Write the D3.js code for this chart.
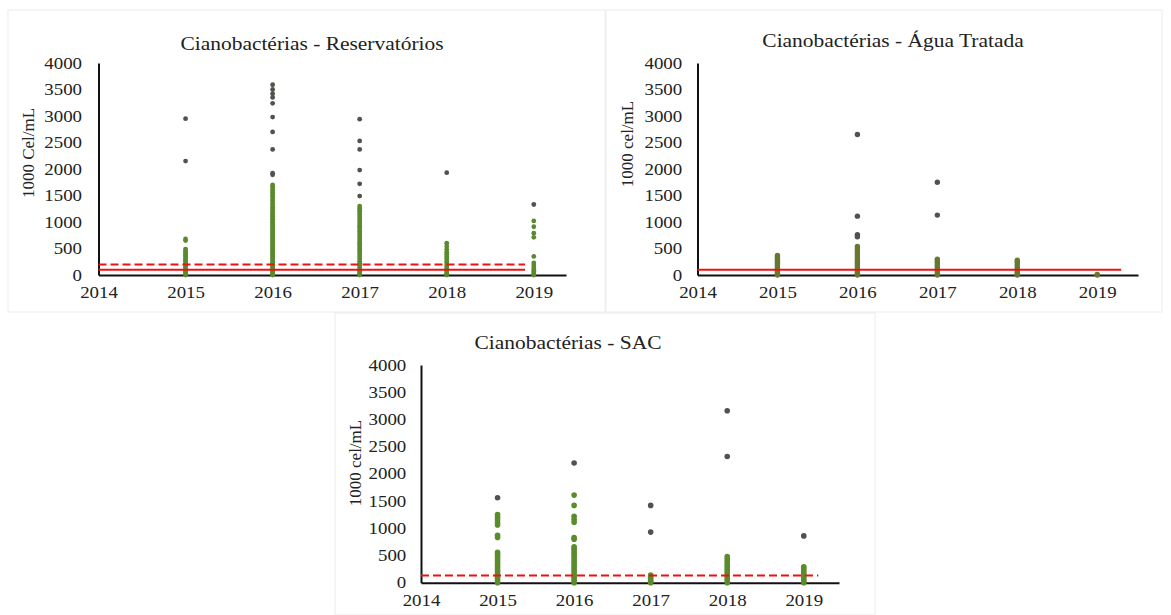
<!DOCTYPE html>
<html>
<head>
<meta charset="utf-8">
<script src="https://cdn.jsdelivr.net/npm/d3@7"></script>
<style>
  html, body { margin: 0; padding: 0; background: #fff; }
  svg { display: block; }
</style>
</head>
<body>
<svg id="chart" width="1171" height="615"></svg>
<script>
// Sampling years shown on the x axis
const xTicks = [2014, 2015, 2016, 2017, 2018, 2019];
const yTicks = [0, 500, 1000, 1500, 2000, 2500, 3000, 3500, 4000];
const years = [2015, 2016, 2017, 2018, 2019];

// Reservatórios (1000 cel/mL) – one list per year, dense low counts and isolated high counts
const resBaixo = [
  [680, 650, 490, 460, 430, 400, 370, 340, 310, 280, 250, 220, 190, 160, 130, 100, 80, 60, 40, 20, 10, 0],
  [1700, 1670, 1640, 1600, 1560, 1520, 1480, 1440, 1400, 1360, 1320, 1280, 1240, 1200, 1170, 1140, 1110, 1080, 1050, 1020, 990, 960, 930, 900, 870, 840, 810, 780, 750, 720, 690, 660, 630, 600, 570, 540, 510, 480, 450, 420, 390, 360, 330, 300, 270, 240, 210, 180, 150, 120, 90, 60, 40, 20, 0],
  [1300, 1260, 1220, 1180, 1140, 1100, 1060, 1020, 980, 940, 900, 860, 820, 780, 740, 700, 660, 620, 580, 540, 500, 460, 420, 380, 340, 300, 260, 220, 180, 140, 100, 70, 40, 20, 0],
  [600, 540, 480, 430, 390, 350, 310, 270, 230, 190, 150, 120, 90, 60, 30, 10, 0],
  [1020, 910, 790, 710, 350, 230, 190, 150, 110, 70, 40, 10, 0]
];
const resAlto = [
  [2950, 2150],
  [3590, 3500, 3420, 3350, 3240, 2980, 2700, 2370, 1920, 1890],
  [2940, 2530, 2370, 1980, 1720, 1490],
  [1930],
  [1330]
];

// Água Tratada (1000 cel/mL)
const aguaBaixo = [
  [370, 340, 310, 280, 250, 220, 190, 160, 130, 100, 70, 40, 20, 0],
  [540, 500, 460, 420, 380, 340, 300, 260, 220, 180, 140, 100, 60, 30, 0],
  [300, 270, 240, 200, 160, 120, 80, 40, 0],
  [280, 250, 210, 170, 130, 90, 50, 20, 0],
  [10, 0]
];
const aguaAlto = [
  [],
  [2650, 1110, 760, 720],
  [1750, 1130],
  [],
  []
];

// SAC (1000 cel/mL)
const sacBaixo = [
  [1250, 1200, 1150, 1100, 1060, 870, 830, 560, 520, 480, 440, 400, 360, 320, 280, 240, 200, 160, 120, 80, 40, 0],
  [1610, 1420, 1220, 1160, 1110, 830, 800, 660, 630, 600, 560, 520, 480, 440, 400, 360, 320, 280, 240, 200, 160, 120, 80, 40, 0],
  [140, 110, 80, 50, 20, 0],
  [480, 440, 400, 360, 320, 280, 240, 200, 160, 120, 80, 40, 0],
  [290, 260, 220, 180, 140, 100, 60, 30, 0]
];
const sacAlto = [
  [1560],
  [2200],
  [1420, 930],
  [3160, 2320],
  [860]
];

// Reference limits (1000 cel/mL)
const resLimites = [{ value: 100, dashed: false }, { value: 200, dashed: true }];
const aguaLimites = [{ value: 100, dashed: false }];
const sacLimites = [{ value: 130, dashed: true }];

const FONT = "'Liberation Serif', 'DejaVu Serif', serif";
const WIDE = "scale(1.18,1)";   // the typeset labels run slightly wide
const svg = d3.select("#chart");

// Faint frames around each panel
[[8, 10, 597, 302], [606, 10, 556, 302], [335, 313, 540, 302]].forEach(([x, y, w, h]) => {
  svg.append("rect").attr("x", x).attr("y", y).attr("width", w).attr("height", h)
    .attr("fill", "none").attr("stroke", "#ececec").attr("stroke-width", 1);
});

function panel(cfg) {
  const g = svg.append("g");
  const x = d3.scaleLinear().domain([2014, cfg.xMax]).range([cfg.left, cfg.right]);
  const y = d3.scaleLinear().domain([0, 4000]).range([cfg.bottom, cfg.top]);

  // title
  g.append("g").attr("transform", `translate(${cfg.titleX},${cfg.titleY})`)
    .append("text").attr("transform", "scale(1.1,1)")
    .attr("text-anchor", "middle").attr("dy", "0.35em")
    .attr("font-family", FONT).attr("font-size", 19.5).attr("fill", "#222")
    .text(cfg.title);

  // y axis label
  g.append("text")
    .attr("transform", `translate(${cfg.labelX},${cfg.labelY}) rotate(-90)`)
    .attr("text-anchor", "middle").attr("dy", "0.35em")
    .attr("font-family", FONT).attr("font-size", 17).attr("fill", "#222")
    .text(cfg.yLabel);

  // y axis
  const ya = g.append("g").attr("transform", `translate(${cfg.left},0)`)
    .call(d3.axisLeft(y).tickValues(yTicks).tickSize(0).tickPadding(cfg.yPad).tickFormat(d3.format("d")));
  ya.attr("font-family", FONT).attr("font-size", 16);
  ya.select(".domain").attr("stroke", "#111").attr("stroke-width", 2);
  ya.selectAll("text").attr("fill", "#222").attr("transform", WIDE);

  // x axis
  const xa = g.append("g").attr("transform", `translate(0,${cfg.bottom})`)
    .call(d3.axisBottom(x).tickValues(xTicks).tickSize(0).tickPadding(cfg.xPad).tickFormat(d3.format("d")));
  xa.attr("font-family", FONT).attr("font-size", 16);
  xa.select(".domain").attr("stroke", "#111").attr("stroke-width", 2);
  xa.selectAll("text").attr("fill", "#222").attr("transform", WIDE);

  // points
  const pts = [];
  years.forEach((yr, i) => {
    cfg.baixo[i].forEach(v => pts.push({ yr, v }));
  });
  const high = [];
  years.forEach((yr, i) => {
    cfg.alto[i].forEach(v => high.push({ yr, v }));
  });
  g.append("g").selectAll("circle").data(pts).join("circle")
    .attr("cx", d => x(d.yr)).attr("cy", d => y(d.v)).attr("r", cfg.r)
    .attr("fill", cfg.green);
  g.append("g").selectAll("circle").data(high).join("circle")
    .attr("cx", d => x(d.yr)).attr("cy", d => y(d.v)).attr("r", cfg.r)
    .attr("fill", "#4e534b");

  // reference limits
  g.append("g").selectAll("line").data(cfg.limites).join("line")
    .attr("x1", x(2014)).attr("x2", x(cfg.lineEnd))
    .attr("y1", d => y(d.value)).attr("y2", d => y(d.value))
    .attr("stroke", "#ee1111").attr("stroke-width", 2)
    .attr("stroke-dasharray", d => d.dashed ? "8,4" : null);
}

panel({
  title: "Cianobactérias - Reservatórios", titleX: 312, titleY: 43,
  yLabel: "1000 Cel/mL", labelX: 28, labelY: 153,
  left: 98.5, right: 566, xMax: 2019.37, top: 63, bottom: 275,
  yPad: 14, xPad: 12, r: 2.4, green: "#5b8a2e",
  baixo: resBaixo, alto: resAlto, limites: resLimites, lineEnd: 2018.9
});

panel({
  title: "Cianobactérias - Água Tratada", titleX: 893, titleY: 40,
  yLabel: "1000 cel/mL", labelX: 627, labelY: 144,
  left: 697.5, right: 1138, xMax: 2019.51, top: 63, bottom: 275,
  yPad: 13, xPad: 12, r: 2.7, green: "#66792f",
  baixo: aguaBaixo, alto: aguaAlto, limites: aguaLimites, lineEnd: 2019.3
});

panel({
  title: "Cianobactérias - SAC", titleX: 568, titleY: 342,
  yLabel: "1000 cel/mL", labelX: 355, labelY: 463,
  left: 421, right: 839, xMax: 2019.46, top: 365, bottom: 582.7,
  yPad: 12.5, xPad: 12, r: 2.8, green: "#5a8c2c",
  baixo: sacBaixo, alto: sacAlto, limites: sacLimites, lineEnd: 2019.19
});
</script>
</body>
</html>
